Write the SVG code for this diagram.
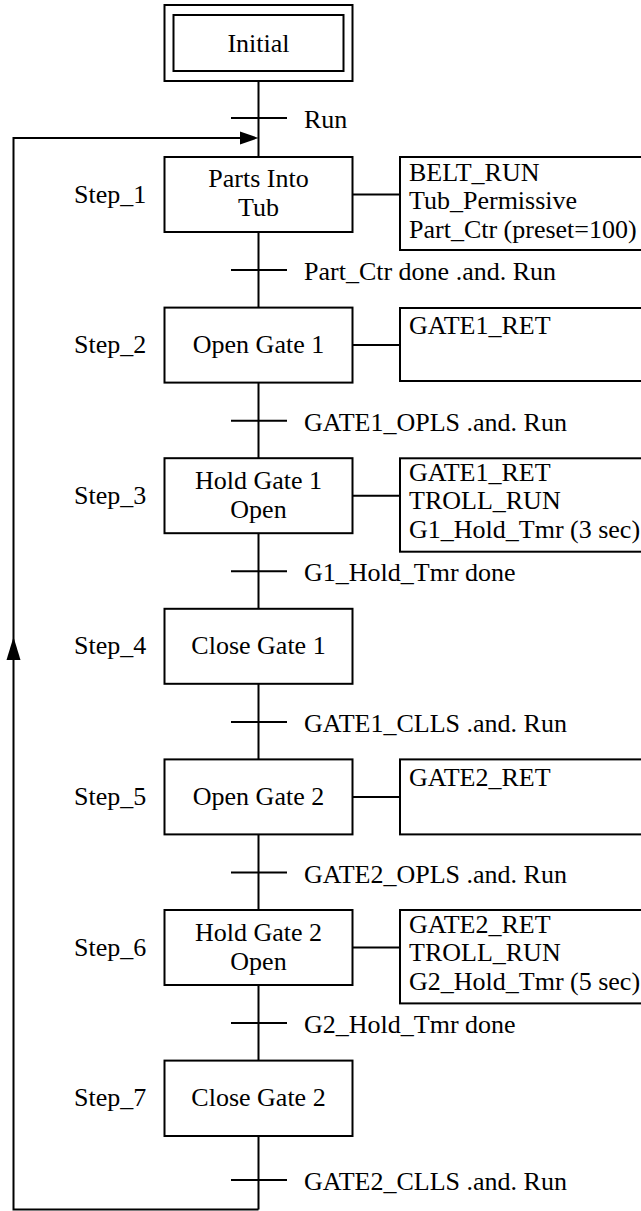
<svg xmlns="http://www.w3.org/2000/svg" width="641" height="1211" viewBox="0 0 641 1211">
<style>
.ln{fill:none;stroke:#000;stroke-width:2}
.bx{fill:#fff;stroke:#000;stroke-width:2}
text{font-family:"Liberation Serif","Times New Roman",serif;font-size:26px;fill:#000}
.c{text-anchor:middle}
</style>
<rect width="641" height="1211" fill="#fff"/>
<g id="connectors">
<path class="ln" d="M258.5 81V157M258.5 232V308M258.5 383V458M258.5 533V609M258.5 684V759M258.5 835V910M258.5 985V1061M258.5 1136V1209.5"/>
<path class="ln" d="M258.5 1209.5H13.5V138H245"/>
<polygon points="258.5,138 240,131.5 240,144.5" fill="#000"/>
<polygon points="13.5,637 6.5,660 20.5,660" fill="#000"/>
<path class="ln" d="M231 118H287M231 270H287M231 420.7H287M231 571.3H287M231 722H287M231 872.5H287M231 1023H287M231 1180H287"/>
<path class="ln" d="M352.5 194.5H400M352.5 345H400M352.5 495.7H400M352.5 797H400M352.5 947.5H400"/>
</g>
<g id="transitions">
<text x="304" y="128">Run</text>
<text x="304" y="280">Part_Ctr done .and. Run</text>
<text x="304" y="430.7">GATE1_OPLS .and. Run</text>
<text x="304" y="581.3">G1_Hold_Tmr done</text>
<text x="304" y="732">GATE1_CLLS .and. Run</text>
<text x="304" y="882.5">GATE2_OPLS .and. Run</text>
<text x="304" y="1033">G2_Hold_Tmr done</text>
<text x="304" y="1190">GATE2_CLLS .and. Run</text>
</g>
<g id="initial">
<rect class="bx" x="164.5" y="5" width="188" height="76"/>
<rect class="bx" x="173.5" y="15" width="170" height="56"/>
<text class="c" x="258.5" y="52">Initial</text>
</g>
<g id="step1">
<text x="74" y="202.5">Step_1</text>
<rect class="bx" x="164.5" y="157" width="188" height="75"/>
<text class="c" x="258.5" y="187">Parts Into</text>
<text class="c" x="258.5" y="216">Tub</text>
</g>
<g id="action1">
<rect class="bx" x="400" y="157" width="250" height="93"/>
<text x="409" y="181">BELT_RUN</text>
<text x="409" y="209.3">Tub_Permissive</text>
<text x="409" y="237.6">Part_Ctr (preset=100)</text>
</g>
<g id="step2">
<text x="74" y="353">Step_2</text>
<rect class="bx" x="164.5" y="307.6" width="188" height="75"/>
<text class="c" x="258.5" y="353">Open Gate 1</text>
</g>
<g id="action2">
<rect class="bx" x="400" y="308" width="250" height="73"/>
<text x="409" y="334">GATE1_RET</text>
</g>
<g id="step3">
<text x="74" y="503.7">Step_3</text>
<rect class="bx" x="164.5" y="458.2" width="188" height="75"/>
<text class="c" x="258.5" y="488.5">Hold Gate 1</text>
<text class="c" x="258.5" y="517.5">Open</text>
</g>
<g id="action3">
<rect class="bx" x="400" y="458.3" width="250" height="93.4"/>
<text x="409" y="481">GATE1_RET</text>
<text x="409" y="509.3">TROLL_RUN</text>
<text x="409" y="537.6">G1_Hold_Tmr (3 sec)</text>
</g>
<g id="step4">
<text x="74" y="654.3">Step_4</text>
<rect class="bx" x="164.5" y="608.8" width="188" height="75"/>
<text class="c" x="258.5" y="654.3">Close Gate 1</text>
</g>
<g id="step5">
<text x="74" y="805">Step_5</text>
<rect class="bx" x="164.5" y="759.4" width="188" height="75"/>
<text class="c" x="258.5" y="805">Open Gate 2</text>
</g>
<g id="action5">
<rect class="bx" x="400" y="759.4" width="250" height="75"/>
<text x="409" y="786">GATE2_RET</text>
</g>
<g id="step6">
<text x="74" y="955.5">Step_6</text>
<rect class="bx" x="164.5" y="910" width="188" height="75"/>
<text class="c" x="258.5" y="940.5">Hold Gate 2</text>
<text class="c" x="258.5" y="969.5">Open</text>
</g>
<g id="action6">
<rect class="bx" x="400" y="910" width="250" height="93.4"/>
<text x="409" y="933">GATE2_RET</text>
<text x="409" y="961.3">TROLL_RUN</text>
<text x="409" y="989.6">G2_Hold_Tmr (5 sec)</text>
</g>
<g id="step7">
<text x="74" y="1106">Step_7</text>
<rect class="bx" x="164.5" y="1060.6" width="188" height="75.4"/>
<text class="c" x="258.5" y="1106">Close Gate 2</text>
</g>
</svg>
